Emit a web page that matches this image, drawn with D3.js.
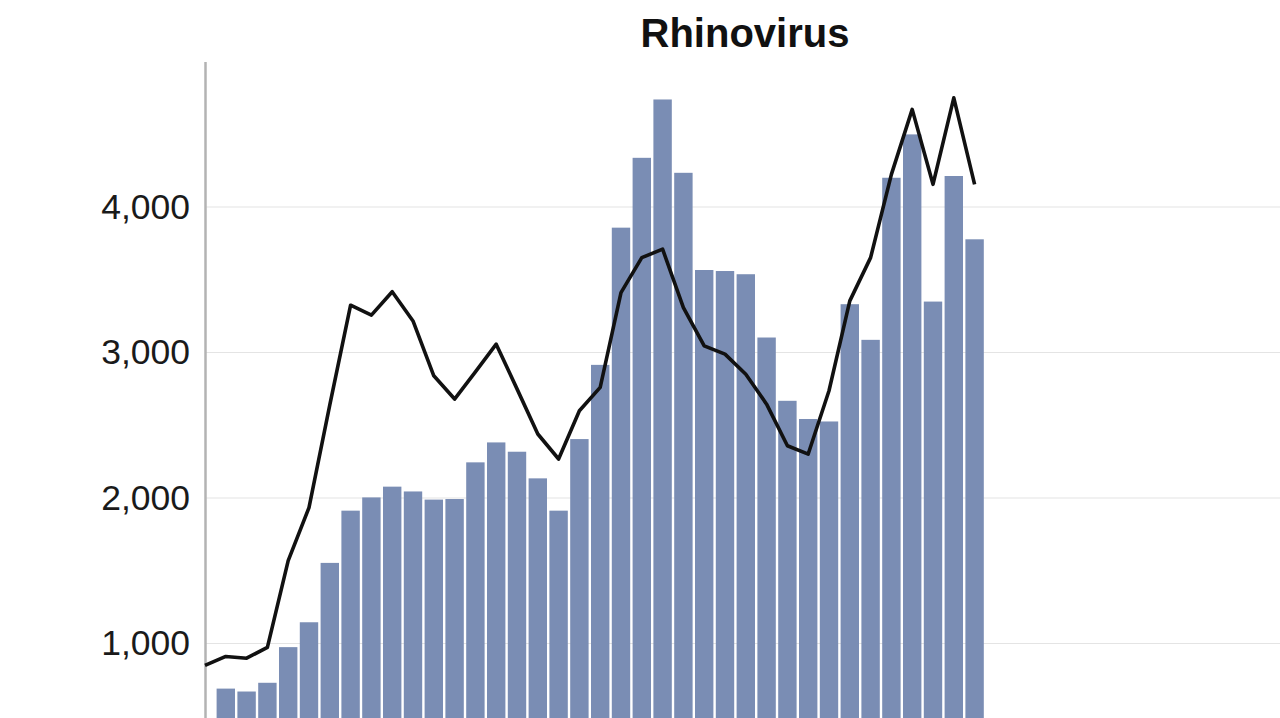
<!DOCTYPE html>
<html>
<head>
<meta charset="utf-8">
<script src="https://cdn.jsdelivr.net/npm/d3@7"></script>
<style>
  body { margin: 0; background: #fff; overflow: hidden; }
  text { font-family: "Liberation Sans", Arial, sans-serif; }
</style>
</head>
<body>
<div id="chart"></div>
<script>
// week index, bars start at week 1, the line starts at week 0
weeks = [0, 1, 2, 3, 4, 5, 6, 7, 8, 9, 10, 11, 12, 13, 14, 15, 16, 17, 18, 19,
         20, 21, 22, 23, 24, 25, 26, 27, 28, 29, 30, 31, 32, 33, 34, 35, 36, 37]

// weekly detections (bars), null where no bar is drawn
cases = [null, 690, 670, 730, 975, 1146, 1554, 1913, 2004, 2078, 2045, 1989, 1993,
         2245, 2382, 2318, 2135, 1913, 2405, 2915, 3858, 4338, 4739, 4235, 3567,
         3560, 3538, 3103, 2668, 2543, 2526, 3332, 3087, 4201, 4499, 3350, 4213, 3778]

// comparison line
average = [849, 911, 899, 973, 1570, 1934, 2640, 3325, 3257, 3418, 3217, 2840, 2680,
           2867, 3057, 2750, 2440, 2268, 2600, 2760, 3412, 3652, 3710, 3309, 3046,
           2989, 2851, 2645, 2359, 2302, 2737, 3355, 3652, 4224, 4671, 4156, 4750, 4156]

yTicks = [1000, 2000, 3000, 4000]
title = "Rhinovirus"

width = 1280
height = 718
step = 20.8
barWidth = 18.4

x = d3.scaleLinear().domain([0, 52]).range([205, 205 + 52 * step])
y = d3.scaleLinear().domain([0, 5000]).range([789, 61.5])

svg = d3.select("#chart").append("svg")
  .attr("width", width)
  .attr("height", height)

// gridlines
svg.append("g")
  .selectAll("line")
  .data(yTicks).enter()
  .append("line")
  .attr("x1", x(0))
  .attr("x2", width)
  .attr("y1", function(d) { return y(d) })
  .attr("y2", function(d) { return y(d) })
  .attr("stroke", "#e4e4e4")
  .attr("stroke-width", 1.2)

// bars
svg.append("g")
  .selectAll("rect")
  .data(weeks.filter(function(w) { return cases[w] != null })).enter()
  .append("rect")
  .attr("x", function(w) { return x(w) - barWidth / 2 })
  .attr("width", barWidth)
  .attr("y", function(w) { return y(cases[w]) })
  .attr("height", function(w) { return y(0) - y(cases[w]) })
  .attr("fill", "#7a8db4")

// y axis
yAxis = d3.axisLeft(y)
  .tickValues(yTicks)
  .tickSize(0)
  .tickPadding(15)
  .tickFormat(d3.format(","))

ax = svg.append("g")
  .attr("transform", "translate(" + x(0) + ",0)")
  .call(yAxis)
ax.select(".domain")
  .attr("stroke", "#b3b3b3")
  .attr("stroke-width", 2.5)
ax.selectAll("text")
  .attr("font-size", 35.5)
  .attr("fill", "#1a1a1a")
  .style("font-family", "'Liberation Sans', Arial, sans-serif")

// line
line = d3.line()
  .x(function(w) { return x(w) })
  .y(function(w) { return y(average[w]) })

svg.append("path")
  .datum(weeks)
  .attr("d", line)
  .attr("fill", "none")
  .attr("stroke", "#111")
  .attr("stroke-width", 3.6)
  .attr("stroke-linejoin", "round")

// title
svg.append("text")
  .attr("x", 745)
  .attr("y", 46.5)
  .attr("text-anchor", "middle")
  .attr("font-size", 40)
  .attr("font-weight", "bold")
  .attr("fill", "#111")
  .text(title)
</script>
</body>
</html>
